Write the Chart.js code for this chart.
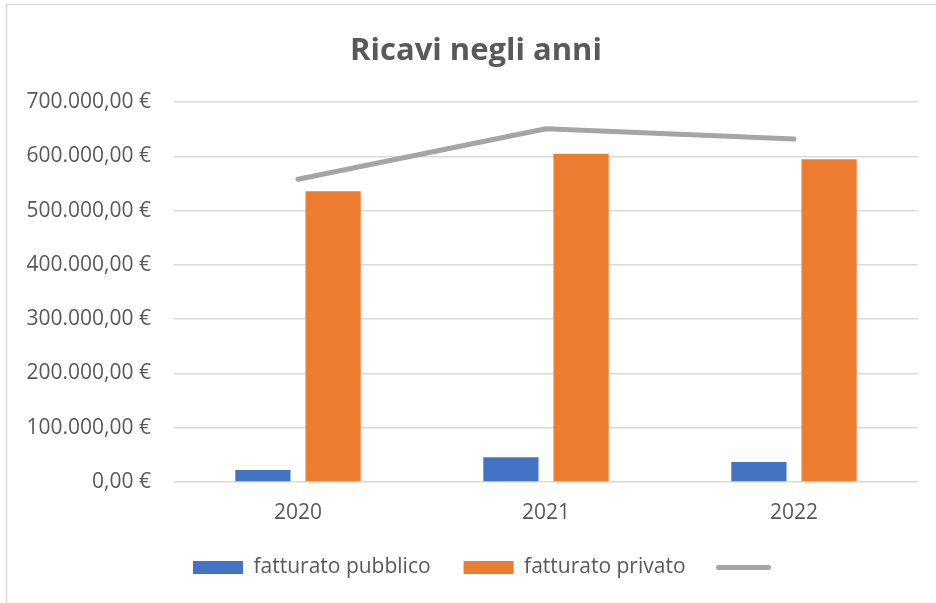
<!DOCTYPE html>
<html lang="it">
<head>
<meta charset="utf-8">
<title>Ricavi negli anni</title>
<script src="https://cdn.jsdelivr.net/npm/chart.js@4/dist/chart.umd.min.js"></script>
<style>
  html, body { margin: 0; padding: 0; background: #fff; }
  canvas { display: block; }
</style>
</head>
<body>
<canvas id="ricaviChart" width="936" height="603"></canvas>
<script>
const anni = ['2020', '2021', '2022'];
const fatturatoPubblico = [22200, 45600, 36900];
const fatturatoPrivato = [535700, 605200, 594800];
const totale = [558000, 651000, 632000];
const yTicks = [0, 100000, 200000, 300000, 400000, 500000, 600000, 700000];

const blu = '#4472C4';
const arancio = '#ED7D31';
const grigio = '#A5A5A5';
const testo = '#595959';

window.addEventListener('DOMContentLoaded', () => {
  // formato italiano: 700.000,00 €
  function euro(value) {
    const intero = Math.round(value).toString().replace(/\B(?=(\d{3})+(?!\d))/g, '.');
    return intero + ',00 €';
  }

  // sfondo bianco e cornice grigia come in Excel
  const cornice = {
    id: 'cornice',
    beforeDraw(chart) {
      const ctx = chart.ctx;
      ctx.save();
      ctx.fillStyle = '#fff';
      ctx.fillRect(0, 0, chart.width, chart.height);
      ctx.strokeStyle = '#d9d9d9';
      ctx.lineWidth = 1.5;
      ctx.strokeRect(6.5, 4.5, chart.width + 20, chart.height + 20);
      ctx.restore();
    }
  };

  // titolo e legenda di Excel sono centrati un po' più a destra dell'area del grafico
  const sposta = {
    id: 'sposta',
    afterLayout(chart) {
      chart.titleBlock.left += 7;
      chart.titleBlock.right += 7;
      chart.legend.left += 17;
      chart.legend.right += 17;
    }
  };

  const canvas = document.getElementById('ricaviChart');
  new Chart(canvas, {
    type: 'bar',
    data: {
      labels: anni,
      datasets: [{
        label: 'fatturato pubblico',
        data: fatturatoPubblico,
        backgroundColor: blu,
        categoryPercentage: 0.566,
        barPercentage: 0.787
      }, {
        label: 'fatturato privato',
        data: fatturatoPrivato,
        backgroundColor: arancio,
        categoryPercentage: 0.566,
        barPercentage: 0.787
      }, {
        type: 'line',
        label: '',
        data: totale,
        borderColor: grigio,
        backgroundColor: grigio,
        borderWidth: 5,
        borderCapStyle: 'round',
        borderJoinStyle: 'round',
        pointRadius: 0,
        pointHoverRadius: 0,
        fill: false
      }]
    },
    options: {
      responsive: false,
      animation: false,
      layout: {
        padding: { left: 20, right: 18, top: 0, bottom: 15 }
      },
      font: { family: '"Open Sans", sans-serif', size: 21 },
      scales: {
        x: {
          afterFit(scale) { scale.height = 42; },
          grid: { display: false, drawTicks: false },
          border: { display: false },
          ticks: {
            color: testo,
            padding: 18,
            font: { family: '"Open Sans", sans-serif', size: 21 }
          }
        },
        y: {
          min: 0,
          max: 700000,
          afterFit(scale) { scale.width = 154; },
          afterBuildTicks(scale) { scale.ticks = yTicks.map(v => ({ value: v })); },
          grid: { color: '#d9d9d9', lineWidth: 1.5, drawTicks: false },
          border: { display: false },
          ticks: {
            color: testo,
            padding: 23,
            font: { family: '"Open Sans", sans-serif', size: 21 },
            callback: function (value) {
              return euro(value);
            }
          }
        }
      },
      plugins: {
        title: {
          display: true,
          text: 'Ricavi negli anni',
          color: testo,
          font: { family: '"Open Sans", sans-serif', size: 31, weight: 'bold' },
          padding: { top: 33, bottom: 32 }
        },
        legend: {
          position: 'bottom',
          labels: {
            color: testo,
            font: { family: '"Open Sans", sans-serif', size: 21 },
            usePointStyle: true,
            pointStyleWidth: 50,
            boxWidth: 50,
            boxHeight: 13,
            padding: 33,
            generateLabels: (chart) => {
              const items = Chart.defaults.plugins.legend.labels.generateLabels(chart);
              items.forEach(item => {
                if (item.datasetIndex === 2) {
                  item.pointStyle = 'line';
                  item.strokeStyle = grigio;
                  item.lineWidth = 5;
                  item.lineCap = 'round';
                } else {
                  item.pointStyle = 'rect';
                  item.lineWidth = 0;
                }
              });
              return items;
            }
          }
        },
        tooltip: { enabled: false }
      }
    },
    plugins: [cornice, sposta]
  });
});
</script>
</body>
</html>
